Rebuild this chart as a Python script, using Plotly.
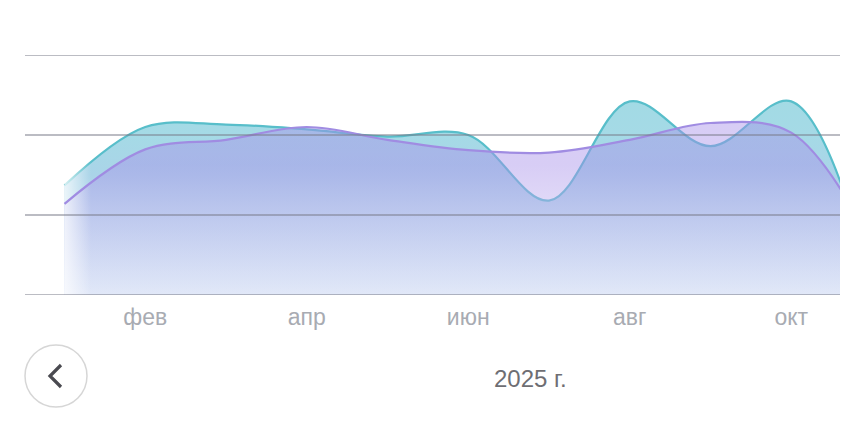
import plotly.graph_objects as go

# ---- data ----
months = ['янв', 'фев', 'мар', 'апр', 'май', 'июн', 'июл', 'авг', 'сен', 'окт', 'ноя']
teal_values = [137, 210, 213, 207, 198, 200, 118, 242, 186, 242, 15]
purple_values = [114, 182, 194, 210, 194, 181, 178, 194, 215, 203, 65]
tick_labels = ['фев', 'апр', 'июн', 'авг', 'окт']
grid_values = [0, 100, 200, 300]
year_label = '2025 г.'

x_idx = list(range(len(months)))
tick_pos = [months.index(t) for t in tick_labels]

# page has an 8px body margin; figure is sized so the plot reaches the window edge
OFF = 8
W, H = 848 - OFF, 430 - 2 * OFF
ML, MR, MT = 25 - OFF, 0, 55 - OFF
MB = H - (295 - OFF)
PW, PH = W - ML - MR, H - MT - MB

def px_to_paper_x(px):
    return (px - OFF - ML) / PW

def px_to_paper_y(py):
    return (H - MB - (py - OFF)) / PH

fig = go.Figure()

# teal area
fig.add_trace(go.Scatter(
    x=x_idx, y=teal_values, mode='lines', fill='tozeroy',
    line=dict(width=0, shape='spline', smoothing=1.0),
    fillgradient=dict(type='vertical', start=0, stop=250,
                      colorscale=[[0, 'rgb(217,232,246)'], [0.6, 'rgb(170,212,232)'],
                                  [0.8, 'rgb(165,218,230)'], [1, 'rgb(162,218,228)']]),
    hoverinfo='skip', showlegend=False))
fig.add_trace(go.Scatter(
    x=x_idx, y=teal_values, mode='lines',
    line=dict(width=2.2, color='rgb(88,190,202)', shape='spline', smoothing=1.0),
    hoverinfo='skip', showlegend=False))

# purple area
fig.add_trace(go.Scatter(
    x=x_idx, y=purple_values, mode='lines', fill='tozeroy',
    line=dict(width=0, shape='spline', smoothing=1.0),
    fillgradient=dict(type='vertical', start=0, stop=250,
                      colorscale=[[0, 'rgba(235,232,250,0.45)'], [0.65, 'rgba(167,144,233,0.45)'],
                                  [1, 'rgba(167,144,233,0.45)']]),
    hoverinfo='skip', showlegend=False))

# left fade of the fill
fig.add_trace(go.Scatter(
    x=[x_idx[0], x_idx[0] + 0.33], y=[grid_values[-1], grid_values[-1]], mode='lines',
    fill='tozeroy', line=dict(width=0),
    fillgradient=dict(type='horizontal',
                      colorscale=[[0, 'rgba(255,255,255,0.75)'], [1, 'rgba(255,255,255,0)']]),
    hoverinfo='skip', showlegend=False))

fig.add_trace(go.Scatter(
    x=x_idx, y=purple_values, mode='lines',
    line=dict(width=2.2, color='rgb(160,140,226)', shape='spline', smoothing=1.0),
    hoverinfo='skip', showlegend=False))

shapes = []
for g in grid_values:
    shapes.append(dict(type='line', xref='paper', x0=0, x1=1, yref='y', y0=g, y1=g,
                       line=dict(color='rgba(120,122,135,0.5)', width=2), layer='above'))

# back button circle
shapes.append(dict(type='circle', xref='paper', yref='paper',
                   xsizemode='pixel', ysizemode='pixel',
                   xanchor=px_to_paper_x(56), yanchor=px_to_paper_y(376),
                   x0=-31, x1=31, y0=-31, y1=31,
                   line=dict(color='#d6d6d6', width=1.5), fillcolor='rgba(0,0,0,0)'))
shapes.append(dict(type='path', xref='paper', yref='paper',
                   xsizemode='pixel', ysizemode='pixel',
                   xanchor=px_to_paper_x(56), yanchor=px_to_paper_y(376),
                   path='M 5 11 L -6 0 L 5 -11',
                   line=dict(color='#4a4a50', width=3.2)))

fig.update_layout(
    width=W, height=H,
    margin=dict(l=ML, r=MR, t=MT, b=MB, pad=0),
    paper_bgcolor='white', plot_bgcolor='white',
    font=dict(family='Liberation Sans, Arial, sans-serif'),
    xaxis=dict(range=[-0.489, 9.703], showgrid=False, zeroline=False, showline=False,
               tickmode='array', tickvals=tick_pos, ticktext=tick_labels, ticks='',
               ticklabelstandoff=6,
               tickfont=dict(size=23, color='#a8abb2'), fixedrange=True),
    yaxis=dict(range=[0, 300], visible=False, fixedrange=True),
    shapes=shapes,
    annotations=[dict(text=year_label, xref='paper', yref='paper',
                      x=px_to_paper_x(530), y=px_to_paper_y(378),
                      xanchor='center', yanchor='middle', showarrow=False,
                      font=dict(size=24, color='#6e6e73'))],
)

fig.write_html('out.html')
